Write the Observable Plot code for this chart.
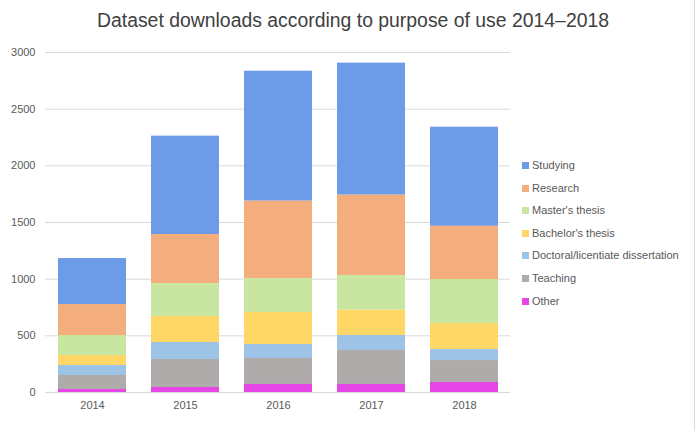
<!DOCTYPE html>
<html><head><meta charset="utf-8">
<script src="https://cdn.jsdelivr.net/npm/d3@7"></script>
<script src="https://cdn.jsdelivr.net/npm/@observablehq/plot@0.6"></script>
<style>
body{margin:0;background:#fff;font-family:"Liberation Sans",Arial,sans-serif;}
#wrap{position:relative;width:697px;height:431px;overflow:hidden;}
#title{position:absolute;left:0;top:9px;width:706px;text-align:center;font-size:19.4px;color:#404040;white-space:nowrap;}
#legend{position:absolute;left:522px;top:156px;font-size:11px;color:#595959;}
#legend div{height:22.6px;line-height:18px;white-space:nowrap;}
#legend span.sw{display:inline-block;width:7px;height:7px;margin-right:3px;vertical-align:0px;}
#border{position:absolute;left:694px;top:0;width:1px;height:431px;background:#d9d9d9;}
</style></head>
<body><div id="wrap"><div id="title">Dataset downloads according to purpose of use 2014–2018</div><div id="legend"></div><div id="border"></div></div>
<script>
const years = ["2014","2015","2016","2017","2018"];
const purposes = ["Studying","Research","Master's thesis","Bachelor's thesis","Doctoral/licentiate dissertation","Teaching","Other"];
const colors = ["#6C9BE8","#F4AE7D","#C8E6A0","#FED766","#9DC3E6","#AFABAB","#E646E6"];
const studying = [406, 868, 1147, 1165, 875];
const research = [273, 433, 683, 709, 469];
const masters = [177, 291, 299, 306, 388];
const bachelors = [88, 229, 283, 223, 230];
const doctoral = [88, 150, 123, 132, 97];
const teaching = [124, 247, 229, 300, 194];
const other = [26, 44, 71, 71, 88];
const yTicks = [0, 500, 1000, 1500, 2000, 2500, 3000];

const series = [studying, research, masters, bachelors, doctoral, teaching, other];
const rows = [];
purposes.forEach((p, i) => years.forEach((y, j) => rows.push({year: y, purpose: p, value: series[i][j]})));
const stackOrder = purposes.slice().reverse();

const chart = Plot.plot({
  width: 697, height: 431,
  marginTop: 52, marginBottom: 39, marginLeft: 45, marginRight: 187,
  style: {fontFamily: '"Liberation Sans",Arial,sans-serif', fontSize: "11px", color: "#595959", background: "transparent"},
  x: {domain: years, paddingInner: 0.27, paddingOuter: 0.135, label: null, tickSize: 0, tickPadding: 9},
  y: {domain: [0, 3000], ticks: yTicks, tickFormat: d => String(d), label: null, tickSize: 0, tickPadding: 10, grid: false},
  color: {domain: purposes, range: colors},
  marks: [
    Plot.ruleY(yTicks, {stroke: "#d9d9d9", strokeWidth: 1}),
    Plot.barY(rows, Plot.stackY({order: stackOrder}, {x: "year", y: "value", fill: "purpose", z: "purpose"}))
  ]
});
chart.style.position = "absolute"; chart.style.left = "0"; chart.style.top = "0";
document.getElementById("wrap").prepend(chart);

const lg = document.getElementById("legend");
purposes.forEach((p, i) => {
  const d = document.createElement("div");
  d.innerHTML = `<span class="sw" style="background:${colors[i]}"></span>${p}`;
  lg.appendChild(d);
});
</script></body></html>
